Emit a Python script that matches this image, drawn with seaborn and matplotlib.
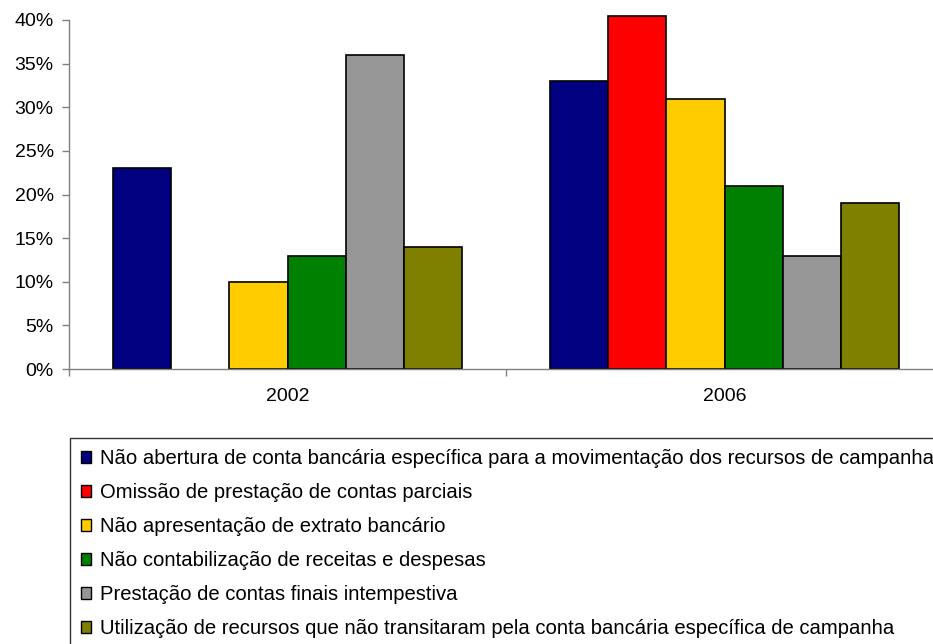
import matplotlib
matplotlib.use("Agg")
import matplotlib.pyplot as plt
import seaborn as sns
import pandas as pd
import numpy as np
from matplotlib.patches import Patch
from matplotlib.ticker import FixedLocator

years = ["2002", "2006"]
series = [
    "Não abertura de conta bancária específica para a movimentação dos recursos de campanha",
    "Omissão de prestação de contas parciais",
    "Não apresentação de extrato bancário",
    "Não contabilização de receitas e despesas",
    "Prestação de contas finais intempestiva",
    "Utilização de recursos que não transitaram pela conta bancária específica de campanha",
]
values_2002 = [23, np.nan, 10, 13, 36, 14]
values_2006 = [33, 40.5, 31, 21, 13, 19]
colors = ["#000080", "#FF0000", "#FFCC00", "#008000", "#969696", "#808000"]
y_ticks = [0, 5, 10, 15, 20, 25, 30, 35, 40]

rows = []
for s, v in zip(series, values_2002):
    if not np.isnan(v):
        rows.append({"year": "2002", "serie": s, "value": v})
for s, v in zip(series, values_2006):
    if not np.isnan(v):
        rows.append({"year": "2006", "serie": s, "value": v})
df = pd.DataFrame(rows)

sns.set_style("white")
plt.rcParams["font.family"] = ["Liberation Sans", "DejaVu Sans"]
plt.rcParams["text.color"] = "black"
plt.rcParams["xtick.labelcolor"] = "black"
plt.rcParams["ytick.labelcolor"] = "black"
FS = 14
LFS = 14.6

fig = plt.figure(figsize=(9.33, 6.44), dpi=100)
ax = fig.add_axes([69/933, 1 - 369/644, 874/933, 349/644])

sns.barplot(data=df, x="year", y="value", hue="serie", order=years,
            hue_order=series, palette=colors, width=0.8, dodge=True,
            edgecolor="black", linewidth=1.2, saturation=1, errorbar=None,
            legend=False, ax=ax)
for p in ax.patches:
    p.set_clip_on(False)

ax.set_xlim(-0.5, 1.5)
ax.set_ylim(0, 40)
ax.set_yticks(y_ticks)
ax.set_yticklabels([f"{t}%" for t in y_ticks])
ax.set_xlabel("")
ax.set_ylabel("")
for sp in ["top", "right"]:
    ax.spines[sp].set_visible(False)
for sp in ["left", "bottom"]:
    ax.spines[sp].set_color("#808080")
    ax.spines[sp].set_linewidth(1.0)
ax.tick_params(axis="y", direction="out", length=5, width=1, color="#808080",
               labelsize=FS, pad=6, left=True, labelcolor="black")
ax.tick_params(axis="x", which="major", length=0, labelsize=FS, pad=14,
               labelcolor="black")
ax.xaxis.set_minor_locator(FixedLocator([-0.5, 0.5, 1.5]))
ax.tick_params(axis="x", which="minor", direction="out", length=5, width=1,
               color="#808080", bottom=True)

handles = [Patch(facecolor=c, edgecolor="black", linewidth=1.0) for c in colors]
leg = fig.legend(handles, series, loc="upper left",
                 bbox_to_anchor=(70/933, 1 - 438/644), borderaxespad=0,
                 frameon=True, fancybox=False, edgecolor="black",
                 fontsize=LFS, handlelength=0.5, handleheight=0.5,
                 handletextpad=0.42, labelspacing=0.74, borderpad=0.55,
                 labelcolor="black")
leg.get_frame().set_linewidth(1.0)

fig.savefig("out.png", dpi=100)
